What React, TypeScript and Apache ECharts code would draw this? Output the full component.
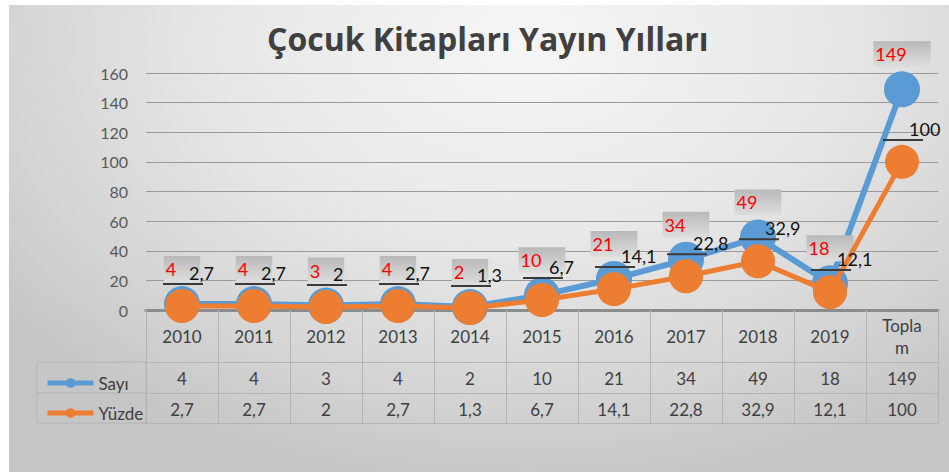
import React, { useEffect, useRef } from "react";
import * as echarts from "echarts";

const categories = ["2010", "2011", "2012", "2013", "2014", "2015", "2016", "2017", "2018", "2019", "Toplam"];
const sayi = [4, 4, 3, 4, 2, 10, 21, 34, 49, 18, 149];
const yuzde = [2.7, 2.7, 2, 2.7, 1.3, 6.7, 14.1, 22.8, 32.9, 12.1, 100];
const yMin = 0;
const yMax = 160;
const yStep = 20;
const title = "Çocuk Kitapları Yayın Yılları";
const seriesNames = ["Sayı", "Yüzde"];

const fmt = (v: number) => String(v).replace(".", ",");
const FONT = "Lato, 'Open Sans', sans-serif";

export default function App() {
  const ref = useRef<HTMLDivElement>(null);
  useEffect(() => {
    if (!ref.current) return;
    const chart = echarts.init(ref.current, null, { renderer: "svg" });
    const tableLine = { color: "#b4b4b4", width: 1 };
    const option: any = {
      animation: false,
      backgroundColor: "transparent",
      textStyle: { fontFamily: FONT },
      title: {
        text: title,
        left: 262,
        top: 17,
        textStyle: { fontFamily: "'Open Sans', sans-serif", fontSize: 32, fontWeight: "bold", color: "#404040" },
      },
      legend: {
        orient: "vertical",
        left: 40,
        top: 368,
        itemWidth: 46,
        itemHeight: 12,
        itemGap: 10,
        data: seriesNames,
        lineStyle: { width: 5 },
        textStyle: { fontFamily: FONT, fontSize: 17, color: "#404040", lineHeight: 20 },
      },
      grid: { left: 146, right: 11, top: 73, bottom: 162, containLabel: false },
      yAxis: {
        type: "value",
        min: yMin,
        max: yMax,
        interval: yStep,
        axisLine: { show: false },
        axisTick: { show: false },
        axisLabel: { margin: 18, fontSize: 16, color: "#595959", fontFamily: FONT },
        splitLine: { lineStyle: { color: "#9a9a9a", width: 1 } },
      },
      xAxis: [
        {
          type: "category",
          data: categories,
          boundaryGap: true,
          position: "bottom",
          axisLine: { lineStyle: { color: "#8c8c8c", width: 3 } },
          axisTick: { show: true, interval: 0, length: 113, lineStyle: tableLine },
          axisLabel: {
            interval: 0,
            margin: 26,
            verticalAlign: "middle",
            fontSize: 17,
            lineHeight: 22,
            color: "#404040",
            fontFamily: FONT,
            formatter: (v: string) => (v === "Toplam" ? "Topla\nm" : v),
          },
        },
        {
          type: "category",
          data: categories,
          position: "bottom",
          offset: 52,
          axisLine: { lineStyle: tableLine },
          axisTick: { show: false },
          axisLabel: {
            interval: 0,
            margin: 16,
            verticalAlign: "middle",
            fontSize: 17,
            color: "#404040",
            fontFamily: FONT,
            formatter: (_v: string, i: number) => String(sayi[i]),
          },
        },
        {
          type: "category",
          data: categories,
          position: "bottom",
          offset: 83,
          axisLine: { lineStyle: tableLine },
          axisTick: { show: false },
          axisLabel: {
            interval: 0,
            margin: 16,
            verticalAlign: "middle",
            fontSize: 17,
            color: "#404040",
            fontFamily: FONT,
            formatter: (_v: string, i: number) => fmt(yuzde[i]),
          },
        },
        {
          type: "category",
          data: categories,
          position: "bottom",
          offset: 113,
          axisLine: { lineStyle: tableLine },
          axisTick: { show: false },
          axisLabel: { show: false },
        },
      ],
      graphic: [
        {
          type: "rect",
          shape: { x: 37, y: 362, width: 109, height: 61 },
          style: { fill: "none", stroke: "#b4b4b4", lineWidth: 1 },
          silent: true,
        },
        {
          type: "line",
          shape: { x1: 37, y1: 393, x2: 146, y2: 393 },
          style: { stroke: "#b4b4b4", lineWidth: 1 },
          silent: true,
        },
      ],
      series: [
        {
          name: seriesNames[0],
          type: "line",
          data: sayi,
          xAxisIndex: 0,
          color: "#5B9BD5",
          lineStyle: { width: 6, color: "#5B9BD5" },
          symbol: "circle",
          symbolSize: 36,
          itemStyle: { color: "#5B9BD5" },
          z: 2,
          label: {
            show: true,
            position: "top",
            distance: 4,
            formatter: (p: any) => String(p.value),
            fontFamily: FONT,
            fontSize: 18,
            lineHeight: 18,
            color: "#FF0000",
            padding: [4, 24, 4, 2],
            backgroundColor: {
              type: "linear",
              x: 0,
              y: 0,
              x2: 0,
              y2: 1,
              colorStops: [
                { offset: 0, color: "#b9b9b9" },
                { offset: 1, color: "#dedede" },
              ],
            },
          },
        },
        {
          name: seriesNames[1],
          type: "line",
          data: yuzde,
          xAxisIndex: 0,
          color: "#ED7D31",
          lineStyle: { width: 5, color: "#ED7D31" },
          symbol: "circle",
          symbolSize: 34,
          itemStyle: { color: "#ED7D31" },
          z: 3,
          label: {
            show: true,
            position: [-2, -25],
            align: "left",
            verticalAlign: "top",
            formatter: (p: any) => "{t|" + fmt(p.value) + "}\n{u|}",
            rich: {
              t: {
                fontFamily: FONT,
                fontSize: 18,
                lineHeight: 18,
                color: "#111111",
                padding: [0, 0, 0, 26],
                align: "left",
              },
              u: {
                width: 40,
                height: 2,
                lineHeight: 4,
                backgroundColor: "#3a3a3a",
                align: "left",
              },
            },
          },
        },
      ],
    };
    chart.setOption(option);
    return () => chart.dispose();
  }, []);

  return (
    <div style={{ position: "fixed", left: 0, top: 0, width: 949, height: 472, background: "#ffffff", overflow: "hidden" }}>
      <div
        style={{
          position: "absolute",
          left: 9,
          top: 5,
          width: 940,
          height: 467,
          background: "radial-gradient(ellipse 70% 95% at 55% 8%, #f6f6f6 0%, #e8e8e8 45%, #d4d4d4 80%, #c6c6c6 100%)",
        }}
      />
      <div ref={ref} style={{ position: "absolute", left: 0, top: 0, width: 949, height: 472 }} />
    </div>
  );
}
